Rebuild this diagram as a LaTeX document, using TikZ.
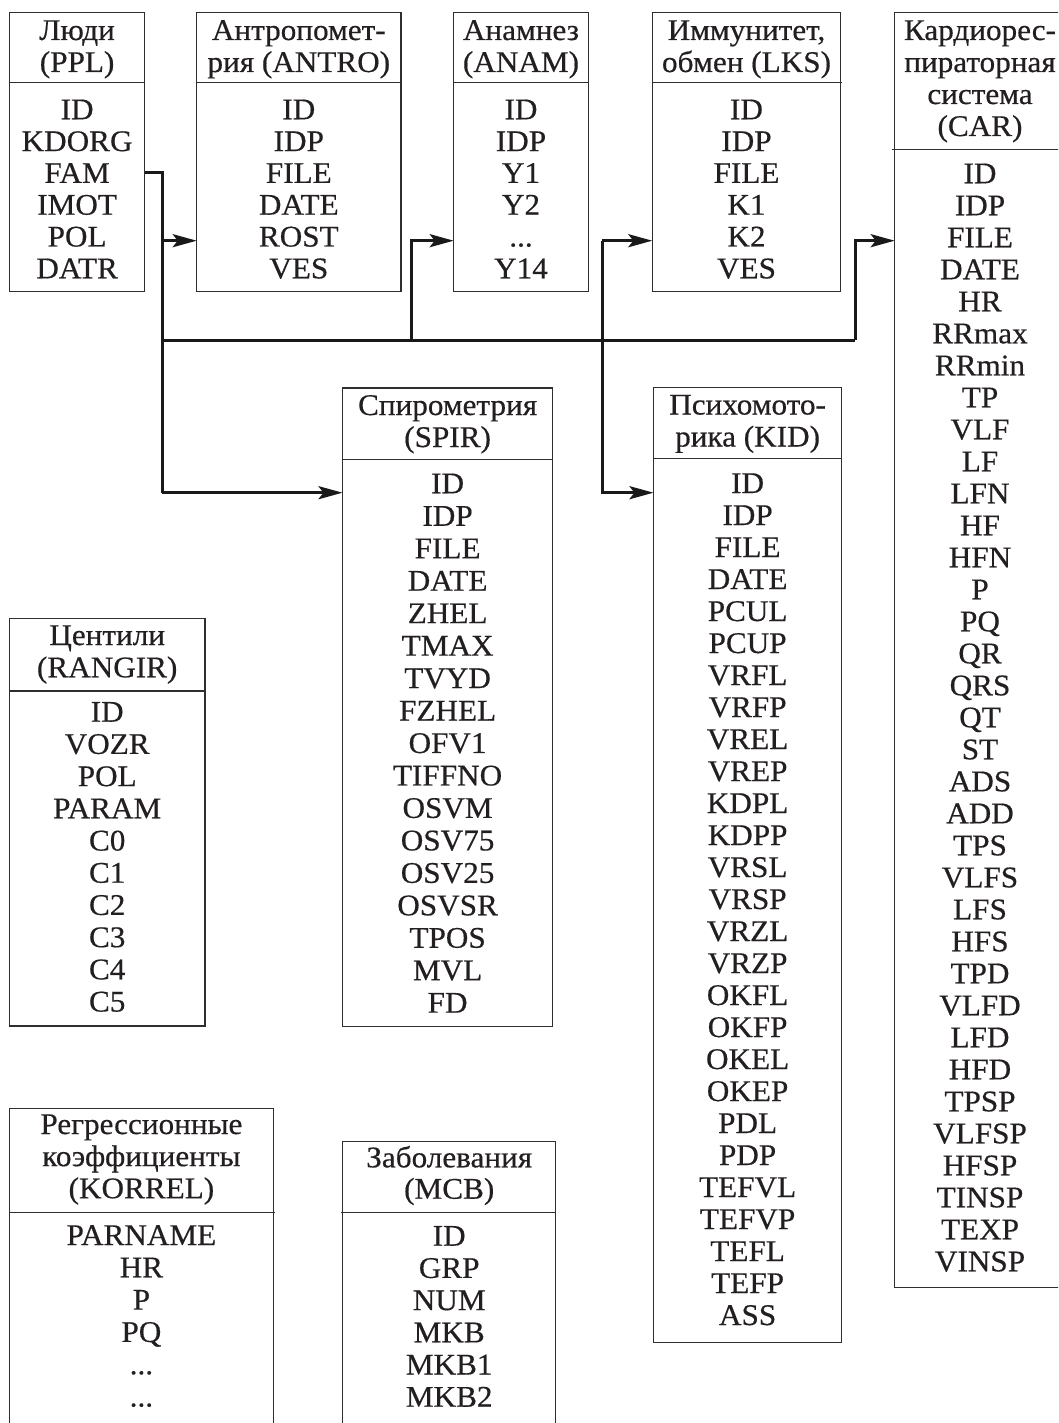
\documentclass[tikz,border=0pt]{standalone}
\usepackage{fontspec}
\setmainfont{Liberation Serif}[FakeStretch=1.04, FakeBold=0.5]
\usetikzlibrary{arrows.meta}
\definecolor{ink}{HTML}{231F20}
\definecolor{frame}{HTML}{2E2E2E}
\newcommand\rowdots{...}
% one text line per entry, baselines #4 apart starting at #3, centred on #2
\newcommand\tabrows[5]{%
  \foreach \entry [count=\rowno] in {#5}{%
    \node[cell] (#1-\rowno) at (#2,{#3+(\rowno-1)*#4}) {\entry};}}
\tikzset{
  tbl/.style={draw=frame, line width=1.3pt, inner sep=0pt, outer sep=0pt,
    anchor=north west},
  divider/.style={draw=frame, line width=1.3pt},
  cell/.style={anchor=base, inner sep=0pt, text=ink,
    font=\fontsize{30}{32}\selectfont},
  link/.style={draw=black!90, line width=3pt},
  arr/.style={link, -{Stealth[length=24pt, width=13pt, inset=5pt]}},
}
\begin{document}
\begin{tikzpicture}[x=1pt, y=-1pt]
\useasboundingbox (0,0) rectangle (1058,1423);
\clip (0,0) rectangle (1058,1423);

% ---- tables: frame, header rule, header lines, fields ----
% People
\node[tbl, minimum width=135.2pt, minimum height=279pt] (ppl) at (9.5,12.7) {};
\draw[divider] (ppl.west |- 0,82.7) -- (ppl.east |- 0,82.7);
\tabrows{pplh}{77.1}{40}{32}{Люди,(PPL)}
\tabrows{pplf}{77.1}{119.3}{31.8}{ID,KDORG,FAM,IMOT,POL,DATR}

% Anthropometry
\node[tbl, minimum width=204.3pt, minimum height=279pt] (antro) at (196.7,12.7) {};
\draw[divider] (antro.west |- 0,82.7) -- (antro.east |- 0,82.7);
\tabrows{antroh}{298.8}{40}{32}{Антропомет-,рия (ANTRO)}
\tabrows{antrof}{298.8}{119.3}{31.8}{ID,IDP,FILE,DATE,ROST,VES}

% Anamnesis
\node[tbl, minimum width=134.6pt, minimum height=279pt] (anam) at (453.7,12.7) {};
\draw[divider] (anam.west |- 0,82.7) -- (anam.east |- 0,82.7);
\tabrows{anamh}{521}{40}{32}{Анамнез,(ANAM)}
\tabrows{anamf}{521}{119.3}{31.8}{ID,IDP,Y1,Y2,\rowdots,Y14}

% Immunity, metabolism
\node[tbl, minimum width=188.4pt, minimum height=279pt] (lks) at (652.3,12.7) {};
\draw[divider] (lks.west |- 0,82.7) -- ([xshift=1.5pt]lks.east |- 0,82.7);
\tabrows{lksh}{746.5}{40}{32}{{Иммунитет,},обмен (LKS)}
\tabrows{lksf}{746.5}{119.3}{31.8}{ID,IDP,FILE,K1,K2,VES}

% Cardiorespiratory system
\node[tbl, minimum width=170.6pt, minimum height=1274.6pt] (car) at (894.7,12.7) {};
\draw[divider] ([xshift=-3pt]car.west |- 0,149.3) -- (car.east |- 0,149.3);
\tabrows{carh}{980}{40}{32}{Кардиорес-,пираторная,система,(CAR)}
\tabrows{carf}{980}{183.3}{32}{ID,IDP,FILE,DATE,HR,RRmax,RRmin,TP,VLF,LF,LFN,HF,HFN,
  P,PQ,QR,QRS,QT,ST,ADS,ADD,TPS,VLFS,LFS,HFS,TPD,VLFD,LFD,HFD,TPSP,VLFSP,HFSP,
  TINSP,TEXP,VINSP}

% Spirometry
\node[tbl, minimum width=210.2pt, minimum height=638.7pt] (spir) at (342.5,388) {};
\draw[divider] (spir.west |- 0,459.5) -- (spir.east |- 0,459.5);
\tabrows{spirh}{447.6}{415}{32}{Спирометрия,(SPIR)}
\tabrows{spirf}{447.6}{493.3}{32.46}{ID,IDP,FILE,DATE,ZHEL,TMAX,TVYD,FZHEL,OFV1,TIFFNO,
  OSVM,OSV75,OSV25,OSVSR,TPOS,MVL,FD}

% Psychomotor
\node[tbl, minimum width=188.2pt, minimum height=955.4pt] (kid) at (653.5,387.3) {};
\draw[divider] (kid.west |- 0,458.7) -- (kid.east |- 0,458.7);
\tabrows{kidh}{747.6}{414.5}{32}{Психомото-,рика (KID)}
\tabrows{kidf}{747.6}{493}{32}{ID,IDP,FILE,DATE,PCUL,PCUP,VRFL,VRFP,VREL,VREP,KDPL,KDPP,
  VRSL,VRSP,VRZL,VRZP,OKFL,OKFP,OKEL,OKEP,PDL,PDP,TEFVL,TEFVP,TEFL,TEFP,ASS}

% Centiles
\node[tbl, minimum width=195.7pt, minimum height=407.7pt] (rangir) at (9.3,618.3) {};
\draw[divider] (rangir.west |- 0,691) -- (rangir.east |- 0,691);
\tabrows{rangirh}{107.2}{645}{32.3}{Центили,(RANGIR)}
\tabrows{rangirf}{107.2}{721.7}{32.2}{ID,VOZR,POL,PARAM,C0,C1,C2,C3,C4,C5}

% Regression coefficients
\node[tbl, minimum width=264.2pt, minimum height=340pt] (korrel) at (9.3,1108.3) {};
\draw[divider] (korrel.west |- 0,1212.5) -- ([xshift=1.5pt]korrel.east |- 0,1212.5);
\tabrows{korrelh}{141.4}{1134}{32.1}{Регрессионные,коэффициенты,(KORREL)}
\tabrows{korrelf}{141.4}{1245}{32.3}{PARNAME,HR,P,PQ,\rowdots,\rowdots}

% Diseases
\node[tbl, minimum width=213.1pt, minimum height=310pt] (mcb) at (342.7,1141.5) {};
\draw[divider] ([xshift=-2pt]mcb.west |- 0,1212.5) -- (mcb.east |- 0,1212.5);
\tabrows{mcbh}{449.2}{1167.3}{31.4}{Заболевания,(MCB)}
\tabrows{mcbf}{449.2}{1245.7}{32.2}{ID,GRP,NUM,MKB,MKB1,MKB2}

% ---- links from the people table ----
\coordinate (tap)  at (162.3,172.3);
\coordinate (hiA)  at (162.3,240.7);
\coordinate (busL) at (162.3,340);
\coordinate (loS)  at (162.3,492.7);
\coordinate (busB) at (411.7,340);
\coordinate (hiB)  at (411.7,240.7);
\coordinate (hiC)  at (602.3,240.7);
\coordinate (loK)  at (602.3,492.7);
\coordinate (busR) at (855,340);
\coordinate (hiR)  at (855,240.7);

\draw[link] (ppl.east |- tap) -- (tap) -- (loS);
\draw[arr] (hiA) -- (hiA -| antro.west);
\draw[arr] (loS) -- (loS -| spir.west);
\draw[link] (busL) -- (busR);
\draw[arr] (busB) -- (hiB) -- (hiB -| anam.west);
\draw[arr] (hiC) -- (hiC -| lks.west);
\draw[arr] (hiC) -- (loK) -- (loK -| kid.west);
\draw[arr] (busR) -- (hiR) -- (hiR -| car.west);
\end{tikzpicture}
\end{document}
